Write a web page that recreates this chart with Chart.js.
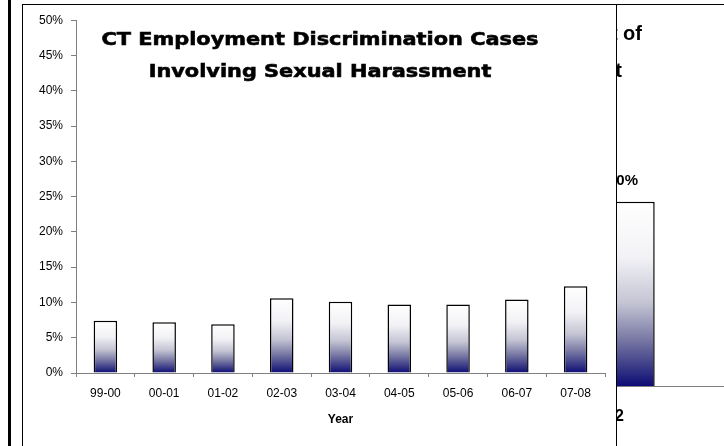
<!DOCTYPE html>
<html>
<head>
<meta charset="utf-8">
<script src="https://cdn.jsdelivr.net/npm/chart.js@4.4.1/dist/chart.umd.min.js"></script>
<style>
    html, body { margin: 0; padding: 0; background: #fff; }
    body { width: 724px; height: 446px; position: relative; overflow: hidden; font-family: "Liberation Sans", Arial, sans-serif; }
    #edge { position: absolute; left: 8px; top: 0; width: 3px; height: 446px; background: #000; }
    #topLine { position: absolute; left: 22px; top: 4px; width: 702px; height: 1px; background: #000; }
    #bgChart { position: absolute; left: 0; top: 0; }
    .bgTitle { position: absolute; font: bold 20px "Liberation Sans", Arial, sans-serif; color: #000; white-space: nowrap; text-align: right; line-height: 20px; }
    #box { position: absolute; left: 22px; top: 4px; width: 593px; height: 460px; background: #fff; border: 1px solid #000; z-index: 2; }
    #mainChart { position: absolute; left: 0; top: 0; }
</style>
</head>
<body>
<div id="edge"></div>
<canvas id="bgChart" width="724" height="446"></canvas>
<div class="bgTitle" style="right: 82px; top: 23px;">Percent of</div>
<div class="bgTitle" style="right: 102px; top: 60px;">Employment</div>
<div id="topLine"></div>
<div id="box"><canvas id="mainChart" width="593" height="441"></canvas></div>

<script>
// main chart data
const years = ['99-00', '00-01', '01-02', '02-03', '03-04', '04-05', '05-06', '06-07', '07-08'];
const harassmentPct = [7.4, 7.2, 6.9, 10.6, 10.1, 9.7, 9.7, 10.4, 12.3];
const titleLines = ['CT Employment Discrimination Cases', 'Involving Sexual Harassment'];
const xTitle = 'Year';

// chart partly hidden behind the main one
const bgLabels = ['2002'];
const bgValues = [30];

document.addEventListener('DOMContentLoaded', () => {
    Chart.defaults.font.family = '"Liberation Sans", Arial, sans-serif';
    Chart.defaults.color = '#000';

    // white at top fading to navy at the bottom, per bar
    function barGradient(context) {
        const chart = context.chart;
        if (!chart.chartArea) return '#ffffff';
        const y = chart.scales.y;
        const top = y.getPixelForValue(context.raw);
        const bottom = y.getPixelForValue(0);
        const g = chart.ctx.createLinearGradient(0, top, 0, bottom);
        g.addColorStop(0, '#ffffff');
        g.addColorStop(0.3, '#f2f2f6');
        g.addColorStop(0.55, '#c4c4d4');
        g.addColorStop(0.75, '#7878a4');
        g.addColorStop(0.9, '#383886');
        g.addColorStop(1, '#0c0c76');
        return g;
    }

    const boxTitle = {
        id: 'boxTitle',
        afterDraw(chart) {
            const c = chart.ctx;
            c.save();
            c.font = 'bold 18px "DejaVu Sans"';
            c.textAlign = 'center';
            c.textBaseline = 'middle';
            c.fillStyle = '#000';
            c.strokeStyle = '#000';
            c.lineWidth = 0.6;
            const sx = 437 / c.measureText(titleLines[0]).width;
            titleLines.forEach((line, i) => {
                c.save();
                c.translate(297, 35 + i * 32);
                c.scale(sx, 1);
                c.fillText(line, 0, 0);
                c.strokeText(line, 0, 0);
                c.restore();
            });
            c.restore();
        }
    };

    new Chart(document.getElementById('mainChart'), {
        type: 'bar',
        data: {
            labels: years,
            datasets: [{
                data: harassmentPct,
                backgroundColor: barGradient,
                borderColor: '#000',
                borderWidth: 1.5,
                categoryPercentage: 0.8,
                barPercentage: 0.5
            }]
        },
        options: {
            responsive: false,
            animation: false,
            layout: { padding: { top: 15, right: 11, left: 0, bottom: 0 } },
            plugins: { legend: { display: false }, tooltip: { enabled: false } },
            scales: {
                y: {
                    min: 0,
                    max: 50,
                    ticks: { stepSize: 5, padding: 8, font: { size: 12 }, callback: v => v + '%' },
                    grid: { drawOnChartArea: false, tickLength: 5, color: '#808080' },
                    border: { color: '#808080' },
                    afterFit: s => { s.width = 53; }
                },
                x: {
                    ticks: { padding: 9, font: { size: 12 }, maxRotation: 0 },
                    grid: { drawOnChartArea: false, tickLength: 4, color: '#808080' },
                    border: { color: '#808080' },
                    title: { display: true, text: xTitle, font: { size: 12, weight: 'bold' }, padding: { top: 4, bottom: 19 } },
                    afterFit: s => { s.height = 73; }
                }
            }
        },
        plugins: [boxTitle]
    });

    const valueLabels = {
        id: 'valueLabels',
        afterDatasetsDraw(chart) {
            const c = chart.ctx;
            c.save();
            c.font = 'bold 15px "Liberation Sans", Arial, sans-serif';
            c.textAlign = 'center';
            c.textBaseline = 'bottom';
            c.fillStyle = '#000';
            chart.getDatasetMeta(0).data.forEach((bar, i) => {
                c.fillText(bgValues[i] + '%', bar.x - 2, bar.y - 13);
            });
            c.restore();
        }
    };

    new Chart(document.getElementById('bgChart'), {
        type: 'bar',
        data: {
            labels: bgLabels,
            datasets: [{
                data: bgValues,
                backgroundColor: barGradient,
                borderColor: '#000',
                borderWidth: 1.5,
                categoryPercentage: 0.6,
                barPercentage: 0.5
            }]
        },
        options: {
            responsive: false,
            animation: false,
            layout: { padding: { top: 79, right: 0, left: 526, bottom: 0 } },
            plugins: { legend: { display: false }, tooltip: { enabled: false } },
            scales: {
                y: { display: false, min: 0, max: 50 },
                x: {
                    ticks: { padding: 21, labelOffset: -19, font: { size: 16, weight: 'bold' } },
                    grid: { drawOnChartArea: false, drawTicks: false },
                    border: { color: '#808080' },
                    afterFit: s => { s.height = 60; }
                }
            }
        },
        plugins: [valueLabels]
    });
});
</script>
</body>
</html>
